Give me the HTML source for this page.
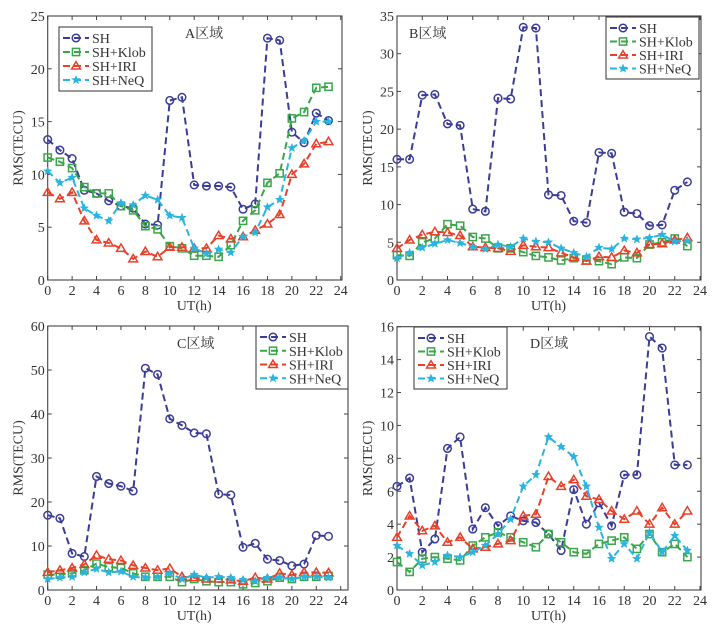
<!DOCTYPE html>
<html><head><meta charset="utf-8"><style>
body{margin:0;background:#fff;}
svg text{font-family:"Liberation Serif","Noto Serif CJK SC",serif;fill:#333;}
</style></head><body>
<svg id="c" width="726" height="632" xmlns="http://www.w3.org/2000/svg"></svg>
<script>
const hours=[0,1,2,3,4,5,6,7,8,9,10,11,12,13,14,15,16,17,18,19,20,21,22,23];
const seriesNames=["SH","SH+Klob","SH+IRI","SH+NeQ"];
const xTicks=[0,2,4,6,8,10,12,14,16,18,20,22,24];
const aSH=[13.3,12.3,11.5,8.5,8.2,7.5,7.0,6.8,5.3,5.2,17.0,17.3,9.0,8.9,8.9,8.8,6.7,7.2,22.9,22.7,14.0,13.0,15.8,15.1];
const aKlob=[11.6,11.2,10.6,8.8,8.2,8.2,7.0,6.6,5.1,4.8,3.2,3.0,2.3,2.3,2.2,3.3,5.6,6.6,9.2,10.1,15.3,15.9,18.2,18.3];
const aIRI=[8.3,7.7,8.3,5.6,3.8,3.5,3.0,2.0,2.7,2.2,3.1,3.1,3.0,3.0,4.2,3.9,4.1,4.7,5.3,6.2,10.0,11.0,12.9,13.1];
const aNeQ=[10.3,9.2,9.7,6.8,6.1,5.6,7.3,7.1,8.0,7.6,6.1,5.9,3.0,2.5,2.9,2.6,4.1,4.5,6.9,7.6,12.5,13.2,15.0,15.0];
const bSH=[16.0,16.0,24.5,24.6,20.7,20.5,9.4,9.1,24.1,24.0,33.5,33.4,11.3,11.2,7.8,7.6,16.9,16.8,9.0,8.8,7.2,7.3,11.9,13.0];
const bKlob=[3.3,3.2,5.0,5.5,7.4,7.2,5.7,5.5,4.2,4.2,3.7,3.2,3.0,2.6,2.9,2.6,2.5,2.1,3.0,2.9,4.7,5.0,5.5,4.5];
const bIRI=[4.2,5.3,6.0,6.4,6.3,5.9,4.4,4.3,4.2,3.8,4.6,4.4,4.3,3.6,3.0,2.5,3.1,3.0,3.9,3.6,4.7,4.8,5.3,5.6];
const bNeQ=[2.9,3.6,4.3,4.8,5.3,4.9,4.4,4.1,4.7,4.4,5.5,5.1,5.0,4.2,3.6,3.1,4.3,4.1,5.5,5.4,5.6,6.0,5.1,5.2];
const cSH=[17.0,16.3,8.3,7.6,25.8,24.2,23.6,22.5,50.4,49.0,38.9,37.4,35.7,35.5,21.8,21.6,9.7,10.6,7.0,6.7,5.5,5.9,12.4,12.2];
const cKlob=[3.5,3.5,3.8,4.5,6.0,5.2,5.0,3.8,3.0,3.0,3.0,1.8,2.5,2.0,1.8,1.8,1.3,1.6,2.0,2.8,2.5,3.0,3.0,3.2];
const cIRI=[4.0,4.5,5.0,5.8,7.9,7.0,6.7,5.6,5.0,4.5,4.9,3.0,2.8,2.5,2.5,2.3,2.0,2.8,2.5,3.8,3.4,4.0,4.0,3.9];
const cNeQ=[2.5,2.8,3.0,4.0,4.8,4.0,4.2,3.0,2.8,3.0,3.8,2.5,3.5,2.8,3.0,2.8,2.3,2.0,2.8,2.8,2.5,3.0,3.0,2.8];
const dSH=[6.3,6.8,2.3,3.1,8.6,9.3,3.7,5.0,3.9,4.5,4.2,4.1,3.4,2.4,6.1,4.0,5.3,3.9,7.0,7.0,15.4,14.7,7.6,7.6];
const dKlob=[1.7,1.1,1.9,2.0,1.9,1.8,2.7,3.2,3.5,3.2,2.9,2.6,3.4,2.9,2.3,2.2,2.8,3.0,3.2,2.5,3.4,2.3,2.8,2.0];
const dIRI=[3.2,4.5,3.6,3.9,2.9,3.2,2.5,2.6,2.8,3.0,4.5,4.6,6.9,6.3,6.7,5.7,5.5,4.8,4.3,4.8,4.0,5.0,4.0,4.8];
const dNeQ=[2.7,2.2,1.5,1.7,2.1,2.0,2.3,2.7,3.4,4.3,6.3,7.0,9.3,8.7,8.1,6.3,3.8,1.9,2.8,1.9,3.5,2.3,3.3,2.4];
const aTicks=[0,5,10,15,20,25], bTicks=[0,5,10,15,20,25,30,35], cTicks=[0,10,20,30,40,50,60], dTicks=[0,2,4,6,8,10,12,14,16];

const colors=["#3b3c98","#3aa64a","#e8402a","#2ab4e0"];
const NS="http://www.w3.org/2000/svg";
const svg=document.getElementById('c');
function mk(tag,attrs,parent){const e=document.createElementNS(NS,tag);for(const k in attrs)e.setAttribute(k,attrs[k]);(parent||svg).appendChild(e);return e;}

const panels=[
 {id:"a",title:"A区域",tx:185,ty:38,x0:47.7,x1:340.7,top:16,bot:280,right:342,ymax:25,yt:aTicks,data:[aSH,aKlob,aIRI,aNeQ],leg:[59,27,93,64]},
 {id:"b",title:"B区域",tx:409,ty:38,x0:397,x1:700,top:16,bot:280,right:701,ymax:35,yt:bTicks,data:[bSH,bKlob,bIRI,bNeQ],leg:[606,17,93,62]},
 {id:"c",title:"C区域",tx:177,ty:348,x0:47.7,x1:340.7,top:326,bot:590,right:348,ymax:60,yt:cTicks,data:[cSH,cKlob,cIRI,cNeQ],leg:[256,326,92,63]},
 {id:"d",title:"D区域",tx:530,ty:348,x0:397,x1:700,top:326.7,bot:590,right:701,ymax:16,yt:dTicks,data:[dSH,dKlob,dIRI,dNeQ],leg:[414,327,93,62]}
];

function marker(s,x,y,g,col){
 let e;
 if(s===0){e=mk('circle',{cx:x,cy:y,r:3.8,fill:'none',stroke:col,'stroke-width':1.5},g);}
 else if(s===1){e=mk('rect',{x:x-3.6,y:y-3.6,width:7.2,height:7.2,fill:'none',stroke:col,'stroke-width':1.5},g);}
 else if(s===2){e=mk('polygon',{points:`${x},${y-4.4} ${x+4.4},${y+3} ${x-4.4},${y+3}`,fill:'none',stroke:col,'stroke-width':1.5},g);}
 else {let p=[];for(let i=0;i<10;i++){const r=i%2?1.9:4.4;const a=-Math.PI/2+i*Math.PI/5;p.push((x+r*Math.cos(a)).toFixed(1)+','+(y+r*Math.sin(a)).toFixed(1));}
  e=mk('polygon',{points:p.join(' '),fill:col,stroke:col,'stroke-width':0.5},g);}
 return e;
}

panels.forEach(p=>{
 const g=mk('g',{});
 
 
 const X=v=>p.x0+(v/24)*(p.x1-p.x0);
 const Y=v=>p.bot-(v/p.ymax)*(p.bot-p.top);
 const frame=mk('rect',{x:p.x0,y:p.top,width:p.right-p.x0,height:p.bot-p.top,fill:'none',stroke:'#444','stroke-width':1.1},g);
 
 
 xTicks.forEach(t=>{
  mk('line',{x1:X(t),x2:X(t),y1:p.bot,y2:p.bot-4,stroke:'#444'},g);
  mk('line',{x1:X(t),x2:X(t),y1:p.top,y2:p.top+4,stroke:'#444'},g);
  const tl=mk('text',{x:X(t),y:p.bot+15,'text-anchor':'middle','font-size':14},g);tl.textContent=t;
  
  
 });
 p.yt.forEach(t=>{
  mk('line',{x1:p.x0,x2:p.x0+4,y1:Y(t),y2:Y(t),stroke:'#444'},g);
  mk('line',{x1:p.right,x2:p.right-4,y1:Y(t),y2:Y(t),stroke:'#444'},g);
  const tl=mk('text',{x:p.x0-3,y:Y(t)+5,'text-anchor':'end','font-size':14},g);tl.textContent=t;
  
  
 });
 const xl=mk('text',{x:(p.x0+p.x1)/2,y:p.bot+30,'text-anchor':'middle','font-size':14},g);xl.textContent='UT(h)';
 
 
 const yc=(p.top+p.bot)/2, yx=p.x0-25;
 const yl=mk('text',{x:yx,y:yc,'text-anchor':'middle','font-size':14,transform:`rotate(-90 ${yx} ${yc})`},g);yl.textContent='RMS(TECU)';
 
 
 const tt=mk('text',{x:p.tx,y:p.ty,'font-size':14},g);tt.textContent=p.title;
 
 
 p.data.forEach((arr,s)=>{
  const pts=arr.map((v,i)=>X(hours[i]).toFixed(1)+','+Y(v).toFixed(1)).join(' ');
  const pl=mk('polyline',{points:pts,fill:'none',stroke:colors[s],'stroke-width':2,'stroke-dasharray':'7,4'},g);
  
  
  arr.forEach((v,i)=>{const m=marker(s,X(hours[i]),Y(v),g,colors[s]);
   
   });
 });
 const [lx,ly,lw,lh]=p.leg;
 const lg=mk('g',{},g);
 
 
 mk('rect',{x:lx,y:ly,width:lw,height:lh,fill:'#fff',stroke:'#444','stroke-width':1.1},lg);
 seriesNames.forEach((n,s)=>{
  const yy=ly+9+s*(lh-8)/4+2;
  mk('line',{x1:lx+4,x2:lx+30,y1:yy,y2:yy,stroke:colors[s],'stroke-width':2,'stroke-dasharray':'7,4'},lg);
  marker(s,lx+17,yy,lg,colors[s]);
  const t=mk('text',{x:lx+33,y:yy+5,'font-size':14},lg);t.textContent=n;
  
  
 });
});
</script>
</body></html>
